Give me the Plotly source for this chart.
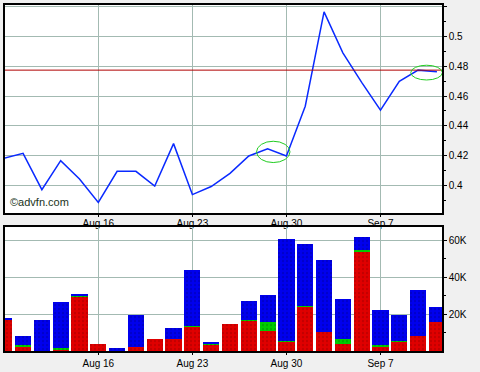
import plotly.graph_objects as go

# ---- data ----
dates = ["Aug 9", "Aug 10", "Aug 11", "Aug 12", "Aug 13",
         "Aug 16", "Aug 17", "Aug 18", "Aug 19", "Aug 20",
         "Aug 23", "Aug 24", "Aug 25", "Aug 26", "Aug 27",
         "Aug 30", "Aug 31", "Sep 1", "Sep 2", "Sep 3",
         "Sep 7", "Sep 8", "Sep 9", "Sep 10"]
price = [0.4183, 0.4216, 0.3972, 0.4167, 0.4044,
         0.3886, 0.4095, 0.4095, 0.3996, 0.4281,
         0.3939, 0.3993, 0.4082, 0.4198, 0.4246,
         0.4198, 0.4532, 0.5165, 0.4890, 0.4692,
         0.4506, 0.4699, 0.4774, 0.4763]
vol_red = [16900, 2600, 0, 1000, 29700, 4000, 0, 1900, 6700, 6200,
           13200, 3700, 14800, 16600, 11000, 5100, 24100, 10100, 3700, 53700,
           2600, 4900, 8000, 15500]
vol_green = [400, 400, 0, 500, 400, 0, 0, 0, 0, 0,
             500, 400, 0, 400, 4900, 500, 500, 0, 2500, 1100,
             500, 400, 0, 0]
vol_blue = [500, 5300, 16900, 25100, 800, 0, 1300, 17400, 0, 6400,
            30100, 600, 0, 10100, 14500, 55400, 33700, 39100, 22000, 6800,
            19200, 14000, 25100, 8600]
x_ticks = ["Aug 16", "Aug 23", "Aug 30", "Sep 7"]
price_ticks = [0.40, 0.42, 0.44, 0.46, 0.48, 0.50, 0.52]
price_ticktext = ["0.4", "0.42", "0.44", "0.46", "0.48", "0.5", ""]
vol_ticks = [20000, 40000, 60000]
vol_ticktext = ["20K", "40K", "60K"]
last_price = 0.4774
# highlighted points (index ranges and price ranges of the green ellipses)
highlights = [(13.41, 15.19, 0.4154, 0.4297), (21.61, 23.29, 0.4708, 0.4807)]

idx = list(range(len(dates)))
tickpos = [dates.index(d) for d in x_ticks]

FONT = "Liberation Sans, Arial, sans-serif"
GRID = "#a3bab2"

fig = go.Figure()
fig.add_trace(go.Scatter(x=idx, y=price, mode="lines",
                         line=dict(color="#0a2aff", width=1.5),
                         xaxis="x", yaxis="y", showlegend=False))

def bar(vals, color, fg):
    return go.Bar(x=idx, y=vals, width=0.86, xaxis="x2", yaxis="y2",
                  marker=dict(color=color, line=dict(width=0),
                              pattern=dict(shape=".", fgcolor=fg, size=4, solidity=0.25)),
                  showlegend=False)

fig.add_trace(bar(vol_red, "#e00000", "#a00000"))
fig.add_trace(bar(vol_green, "#00cc00", "#008800"))
fig.add_trace(bar(vol_blue, "#0000ee", "#0000a0"))

def xaxis_def(anchor, standoff):
    return dict(domain=[0, 1], anchor=anchor,
                range=[0.04, 23.27], tickvals=tickpos, ticktext=x_ticks,
                showgrid=True, gridcolor=GRID, gridwidth=1,
                showline=True, linecolor="black", linewidth=1.5, mirror=True,
                ticks="outside", ticklen=2, tickcolor="black",
                ticklabelstandoff=standoff,
                tickfont=dict(family=FONT, size=10, color="black"),
                zeroline=False)

fig.update_layout(
    width=480, height=372,
    margin=dict(l=3, r=38, t=3, b=17),
    paper_bgcolor="#f0f0f0", plot_bgcolor="white",
    barmode="stack", bargap=0,
    xaxis=xaxis_def("y", -2),
    xaxis2=xaxis_def("y2", 0),
    yaxis=dict(domain=[0.3977, 1], anchor="x", side="right",
               range=[0.3813, 0.5211], tickvals=price_ticks, ticktext=price_ticktext,
               showgrid=True, gridcolor=GRID, gridwidth=1,
               showline=True, linecolor="black", linewidth=1.5, mirror=True,
               ticks="outside", ticklen=3, tickcolor="black",
               minor=dict(tickvals=[0.39, 0.41, 0.43, 0.45, 0.47, 0.49, 0.51],
                          ticks="outside", ticklen=2, tickcolor="black", showgrid=False),
               tickfont=dict(family=FONT, size=10, color="black"), zeroline=False),
    yaxis2=dict(domain=[0, 0.358], anchor="x2", side="right",
                range=[0, 67300], tickvals=vol_ticks, ticktext=vol_ticktext,
                showgrid=True, gridcolor=GRID, gridwidth=1,
                showline=True, linecolor="black", linewidth=1.5, mirror=True,
                ticks="outside", ticklen=3, tickcolor="black",
                minor=dict(tickvals=[10000, 30000, 50000],
                           ticks="outside", ticklen=2, tickcolor="black", showgrid=False),
                tickfont=dict(family=FONT, size=10, color="black"), zeroline=False),
)

fig.add_shape(type="line", xref="x domain", yref="y", x0=0, x1=1,
              y0=last_price, y1=last_price, line=dict(color="#b00000", width=1))
for x0, x1, y0, y1 in highlights:
    fig.add_shape(type="circle", xref="x", yref="y", x0=x0, x1=x1, y0=y0, y1=y1,
                  line=dict(color="#22cc22", width=1))

fig.add_annotation(text="©advfn.com", xref="x domain", yref="y domain",
                   x=0.007, y=0.015, xanchor="left", yanchor="bottom",
                   showarrow=False, font=dict(family=FONT, size=11, color="#1a331a"))

fig.write_html("out.html")
